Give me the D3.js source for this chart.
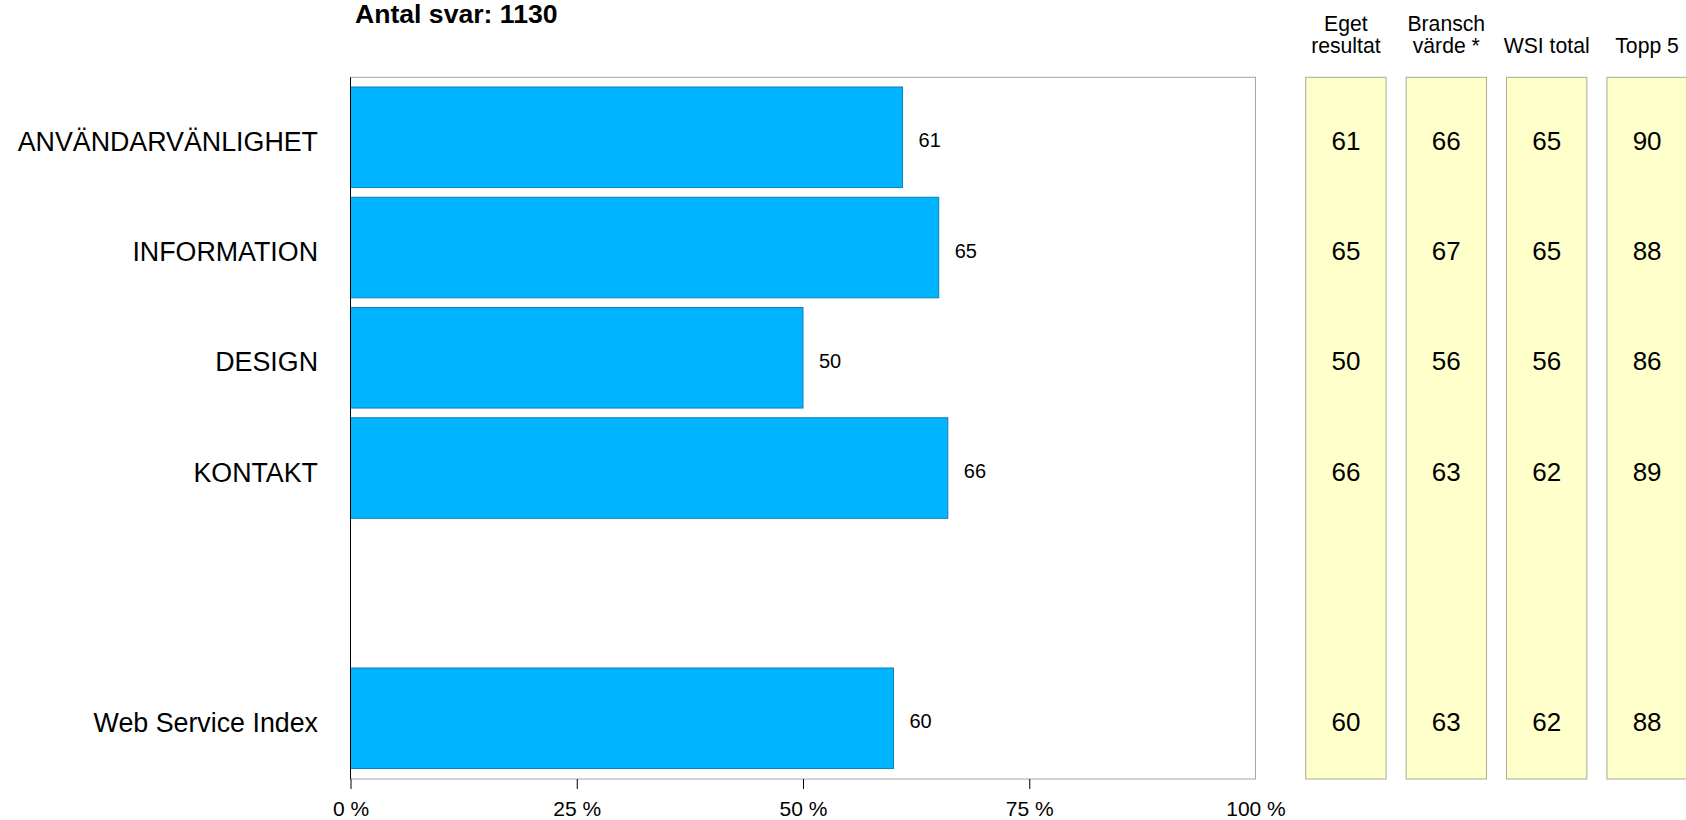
<!DOCTYPE html>
<html>
<head>
<meta charset="utf-8">
<script src="https://cdn.jsdelivr.net/npm/d3@7"></script>
<style>
  html, body { margin: 0; padding: 0; background: #fff; }
  svg { display: block; }
  text { font-family: "Liberation Sans", Arial, sans-serif; fill: #000; }
</style>
</head>
<body>
<svg id="chart" width="1686" height="820"></svg>
<script>
// ---- data ----
const title = "Antal svar: 1130";
const categories = ["ANVÄNDARVÄNLIGHET", "INFORMATION", "DESIGN", "KONTAKT"];
const totalCategory = "Web Service Index";
const egetResultat = [61, 65, 50, 66, 60];
const branschVarde = [66, 67, 56, 63, 63];
const wsiTotal     = [65, 65, 56, 62, 62];
const topp5        = [90, 88, 86, 89, 88];
const columnHeaders = [["Eget", "resultat"], ["Bransch", "värde *"], ["WSI total"], ["Topp 5"]];
const tickValues = [0, 25, 50, 75, 100];
const tickLabels = ["0 %", "25 %", "50 %", "75 %", "100 %"];

// ---- layout ----
const svg = d3.select("#chart");
const plotTop = 77.3, plotBottom = 779, plotLeft = 350.5, plotRight = 1255.5;

const x = d3.scaleLinear().domain([0, 100]).range([plotLeft, plotRight]);

const yTop = d3.scaleBand().domain(categories)
  .range([plotTop, plotTop + 450.7]).paddingInner(0.088).paddingOuter(0.088);
const yTotal = d3.scaleBand().domain([totalCategory])
  .range([plotBottom - 121, plotBottom]).paddingInner(0.09).paddingOuter(0.09);

const rows = categories.concat([totalCategory]);
const yPos = (name) => categories.includes(name) ? yTop(name) : yTotal(name);
const bandH = yTop.bandwidth();

const tableCols = columnHeaders.map(h => h.join(" "));
const xCol = d3.scaleBand().domain(tableCols)
  .range([1295.7, 1697.3]).paddingInner(0.2).paddingOuter(0.1);
const tableValues = [egetResultat, branschVarde, wsiTotal, topp5];

// title
svg.append("text").attr("x", 355).attr("y", 22.5)
  .attr("font-size", 26.6).attr("font-weight", "bold").text(title);

// plot frame
svg.append("rect").attr("x", plotLeft).attr("y", plotTop)
  .attr("width", plotRight - plotLeft).attr("height", plotBottom - plotTop)
  .attr("fill", "#fff").attr("stroke", "#a6a6a6").attr("stroke-width", 1);

// bars
const rowData = rows.map((name, i) => ({ name, value: egetResultat[i] }));
svg.append("g").selectAll("rect").data(rowData).join("rect")
  .attr("x", x(0))
  .attr("y", d => yPos(d.name))
  .attr("width", d => x(d.value) - x(0))
  .attr("height", bandH)
  .attr("fill", "#00B4FF")
  .attr("stroke", "#0C80B8")
  .attr("stroke-width", 1);

// value labels
svg.append("g").selectAll("text").data(rowData).join("text")
  .attr("x", d => x(d.value) + 16)
  .attr("y", d => yPos(d.name) + bandH / 2 + 3)
  .attr("dominant-baseline", "central")
  .attr("font-size", 20)
  .text(d => d.value);

// category labels
svg.append("g").selectAll("text").data(rowData).join("text")
  .attr("x", 318)
  .attr("y", d => yPos(d.name) + bandH / 2 + 4.5)
  .attr("dominant-baseline", "central")
  .attr("text-anchor", "end")
  .attr("font-size", 26.8)
  .text(d => d.name);

// left axis line
svg.append("line").attr("x1", x(0)).attr("x2", x(0))
  .attr("y1", plotTop).attr("y2", plotBottom)
  .attr("stroke", "#000").attr("stroke-width", 1);

// bottom axis
const axis = d3.axisBottom(x).tickValues(tickValues)
  .tickFormat((d, i) => tickLabels[i]).tickSize(10).tickSizeOuter(0).tickPadding(12);
const gAxis = svg.append("g").attr("transform", `translate(0,${plotBottom})`).call(axis);
gAxis.select(".domain").remove();
gAxis.selectAll(".tick line").attr("stroke", "#000")
  .attr("display", d => d === 100 ? "none" : null);
gAxis.selectAll(".tick text")
  .attr("font-family", "'Liberation Sans', Arial, sans-serif")
  .attr("font-size", 21).attr("fill", "#000");

// table boxes
const gTable = svg.append("g");
tableCols.forEach((col, c) => {
  gTable.append("rect")
    .attr("x", xCol(col)).attr("y", plotTop)
    .attr("width", xCol.bandwidth()).attr("height", plotBottom - plotTop)
    .attr("fill", "#FFFFCC").attr("stroke", "#ABAB90").attr("stroke-width", 1);
  const cx = xCol(col) + xCol.bandwidth() / 2;
  // header
  const lines = columnHeaders[c];
  lines.forEach((ln, k) => {
    gTable.append("text")
      .attr("x", cx)
      .attr("y", 52.5 - (lines.length - 1 - k) * 21.5)
      .attr("text-anchor", "middle")
      .attr("font-size", 21.2)
      .text(ln);
  });
  // values
  gTable.selectAll(null).data(rows).enter().append("text")
    .attr("x", cx)
    .attr("y", (d) => yPos(d) + bandH / 2 + 3.5)
    .attr("dominant-baseline", "central")
    .attr("text-anchor", "middle")
    .attr("font-size", 26)
    .text((d, i) => tableValues[c][i]);
});
</script>
</body>
</html>
